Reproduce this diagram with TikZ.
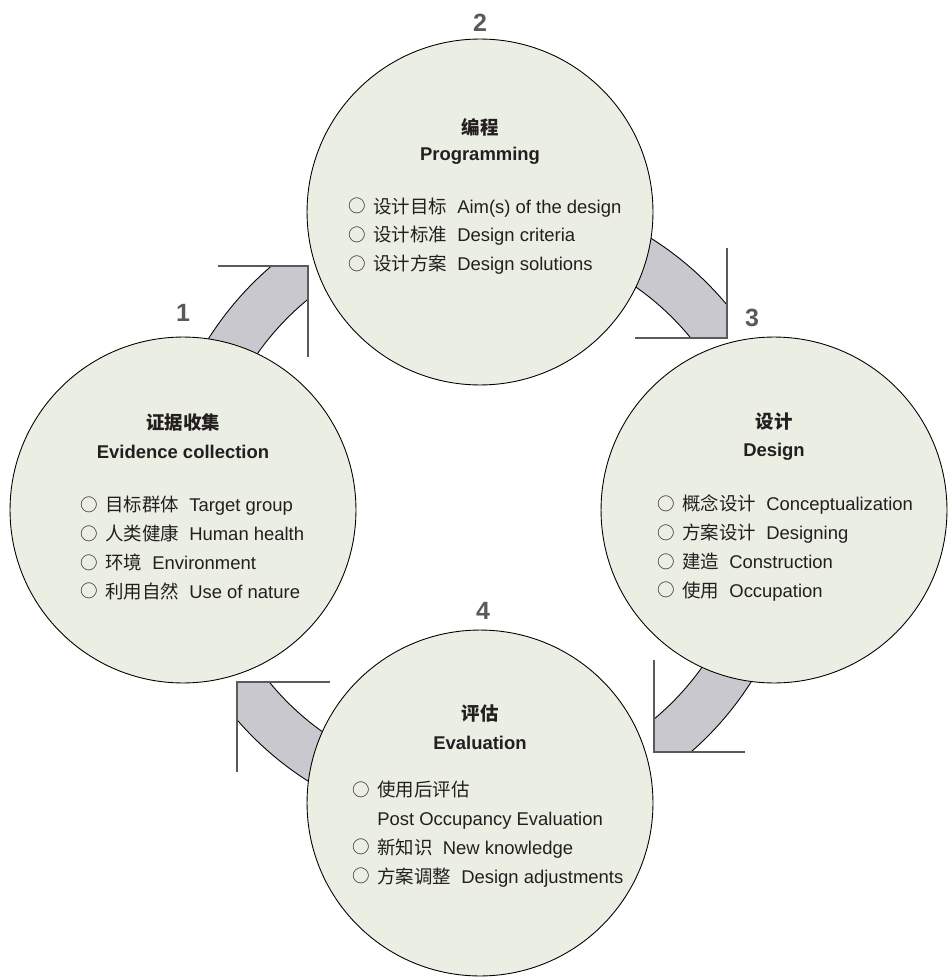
\documentclass[tikz,border=0pt]{standalone}
\usepackage{fontspec}
\setmainfont{Liberation Sans}
\newfontfamily\cjk{Noto Sans CJK SC}
\usetikzlibrary{positioning}
\definecolor{discfill}{HTML}{EBEEE2}
\definecolor{bandfill}{HTML}{C9C8CF}
\definecolor{marker}{HTML}{5A5A5A}
\definecolor{inktext}{HTML}{231F20}
\tikzstyle{stage} = [circle, draw, fill=discfill, line width=0.5pt, minimum size=6.92cm, inner sep=0pt]
\tikzstyle{head} = [font=\fontsize{10.5}{12}\selectfont\bfseries, text=inktext, inner sep=0pt]
\tikzstyle{items} = [font=\fontsize{10.5}{16.4}\selectfont, align=left, anchor=west, text=inktext, inner sep=0pt]
\tikzstyle{stepno} = [font=\fontsize{14.2}{16}\selectfont\bfseries, text=marker, inner sep=0pt]
\tikzstyle{band} = [fill=bandfill, draw=black, line width=0.5pt, even odd rule]
\tikzstyle{corner} = [draw=marker, line width=0.8pt]
\newcommand{\zh}[1]{{\cjk #1}}
\newcommand{\bul}{\raisebox{0.02em}{\scalebox{0.95}{\cjk ○}}\hspace{0.4em}}

\begin{document}
\begin{tikzpicture}[x=0.02cm, y=-0.02cm]
\useasboundingbox (0,0) rectangle (947,979);

% ring pieces between the stages
\begin{scope}
	\clip (0,266) rectangle (308,510);
	\path[band] (480,510) circle (321) (480,510) circle (272);
\end{scope}
\begin{scope}
	\clip (480,0) rectangle (727,338);
	\path[band] (480,510) circle (321) (480,510) circle (272);
\end{scope}
\begin{scope}
	\clip (654,510) rectangle (947,752);
	\path[band] (480,510) circle (321) (480,510) circle (272);
\end{scope}
\begin{scope}
	\clip (237,682) rectangle (480,979);
	\path[band] (480,510) circle (321) (480,510) circle (272);
\end{scope}

% stages
\node[stage] (c1) at (183,510) {};
\node[stage] (c2) at (480,212) {};
\node[stage] (c3) at (774,510) {};
\node[stage] (c4) at (480,803) {};

\node[stepno] (n1) at (183,313) {1};
\node[stepno] (n2) at (480,23) {2};
\node[stepno] (n3) at (752,318) {3};
\node[stepno] (n4) at (483,611) {4};

% titles
\node[head, above of=c1, node distance=1.76cm] (t1zh) {\zh{证据收集}};
\node[head, below of=t1zh, node distance=0.6cm] (t1en) {Evidence collection};
\node[head, above of=c2, node distance=1.7cm] (t2zh) {\zh{编程}};
\node[head, below of=t2zh, node distance=0.58cm] (t2en) {Programming};
\node[head, above of=c3, node distance=1.76cm] (t3zh) {\zh{设计}};
\node[head, below of=t3zh, node distance=0.6cm] (t3en) {Design};
\node[head, above of=c4, node distance=1.8cm] (t4zh) {\zh{评估}};
\node[head, below of=t4zh, node distance=0.6cm] (t4en) {Evaluation};

% lists
\node[items] (l1) at (80,548) {\bul\zh{目标群体}\ \ Target group\\
	\bul\zh{人类健康}\ \ Human health\\
	\bul\zh{环境}\ \ Environment\\
	\bul\zh{利用自然}\ \ Use of nature};
\node[items] (l2) at (348,236) {\bul\zh{设计目标}\ \ Aim(s) of the design\\
	\bul\zh{设计标准}\ \ Design criteria\\
	\bul\zh{设计方案}\ \ Design solutions};
\node[items] (l3) at (657,548) {\bul\zh{概念设计}\ \ Conceptualization\\
	\bul\zh{方案设计}\ \ Designing\\
	\bul\zh{建造}\ \ Construction\\
	\bul\zh{使用}\ \ Occupation};
\node[items] (l4) at (352,834) {\bul\zh{使用后评估}\\
	\hphantom{\bul}Post Occupancy Evaluation\\
	\bul\zh{新知识}\ \ New knowledge\\
	\bul\zh{方案调整}\ \ Design adjustments};

% corner marks
\coordinate (tl-a) at (218,266);
\coordinate (tl-b) at (308,266);
\coordinate (tl-c) at (308,357);
\coordinate (tr-a) at (727,248);
\coordinate (tr-b) at (727,338);
\coordinate (tr-c) at (635,338);
\coordinate (br-a) at (654,660);
\coordinate (br-b) at (654,752);
\coordinate (br-c) at (745,752);
\coordinate (bl-a) at (237,772);
\coordinate (bl-b) at (237,682);
\coordinate (bl-c) at (330,682);
\draw[corner] (tl-a) -- (tl-b) -- (tl-c);
\draw[corner] (tr-a) -- (tr-b) -- (tr-c);
\draw[corner] (br-a) -- (br-b) -- (br-c);
\draw[corner] (bl-a) -- (bl-b) -- (bl-c);
\end{tikzpicture}
\end{document}
